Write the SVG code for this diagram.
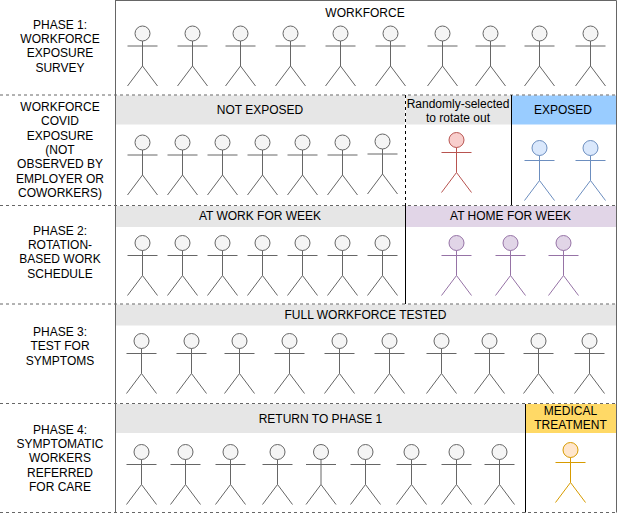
<svg xmlns="http://www.w3.org/2000/svg" xmlns:xlink="http://www.w3.org/1999/xlink" width="617" height="526" viewBox="0 0 617 526">
<style>
text{font-family:"Liberation Sans",Arial,sans-serif;font-size:12px;fill:#000;text-anchor:middle}
.gray{fill:#e6e6e6}.blue{fill:#99ccff}.purple{fill:#e1d5e7}.gold{fill:#ffd966}
.frame{fill:none;stroke:#666;stroke-width:1}
.dash{fill:none;stroke:#666;stroke-width:1;stroke-dasharray:3 3}
.solid{fill:none;stroke:#000;stroke-width:1}
.kdash{fill:none;stroke:#000;stroke-width:1;stroke-dasharray:3 3}
.a{fill:#f5f5f5;stroke:#666}
.r{fill:#f8cecc;stroke:#b85450}
.b{fill:#dae8fc;stroke:#6c8ebf}
.p{fill:#e1d5e7;stroke:#9673a6}
.o{fill:#ffe6cc;stroke:#d79b00}
</style>
<defs>
<g id="actor"><circle cx="0" cy="7.5" r="7.5"/><path d="M0 15V40M-15 20H15M-15 60L0 40L15 60" fill="none"/></g>
</defs>
<g id="bands">
<rect class="gray" x="116" y="95.500" width="289" height="29"/>
<rect class="gray" x="406" y="95.500" width="105" height="29"/>
<rect class="blue" x="512" y="95.500" width="104" height="29"/>
<rect class="gray" x="116" y="206" width="289" height="21"/>
<rect class="purple" x="406" y="206" width="210" height="21"/>
<rect class="gray" x="116" y="304.500" width="500" height="21"/>
<rect class="gray" x="116" y="404" width="409" height="29"/>
<rect class="gold" x="526" y="404" width="90" height="29"/>
</g>
<g id="connectors">
<path class="frame" d="M115.500 0V512.500M115.500 0.500H616.500V512.500"/>
<path class="dash" d="M0 95H616M0 205.500H616M0 304H616M0 403.500H616M0 512.500H616"/>
<path class="kdash" d="M405.500 95V205"/>
<path class="solid" d="M405.500 205V304M511.500 95V205M525.500 404V512.500"/>
</g>
<g id="labels">
<text id="label-phase1"><tspan x="60" y="28.500">PHASE 1:</tspan><tspan x="60" y="43">WORKFORCE</tspan><tspan x="60" y="57">EXPOSURE</tspan><tspan x="60" y="71.500">SURVEY</tspan></text>
<text id="label-exposure"><tspan x="60" y="111">WORKFORCE</tspan><tspan x="60" y="125">COVID</tspan><tspan x="60" y="140">EXPOSURE</tspan><tspan x="60" y="154">(NOT</tspan><tspan x="60" y="168">OBSERVED BY</tspan><tspan x="60" y="183">EMPLOYER OR</tspan><tspan x="60" y="197">COWORKERS)</tspan></text>
<text id="label-phase2"><tspan x="60" y="234.500">PHASE 2:</tspan><tspan x="60" y="249">ROTATION-</tspan><tspan x="60" y="263">BASED WORK</tspan><tspan x="60" y="278">SCHEDULE</tspan></text>
<text id="label-phase3"><tspan x="60" y="336">PHASE 3:</tspan><tspan x="60" y="350">TEST FOR</tspan><tspan x="60" y="365">SYMPTOMS</tspan></text>
<text id="label-phase4"><tspan x="60" y="433.500">PHASE 4:</tspan><tspan x="60" y="448">SYMPTOMATIC</tspan><tspan x="60" y="462">WORKERS</tspan><tspan x="60" y="476.500">REFERRED</tspan><tspan x="60" y="491">FOR CARE</tspan></text>
<text x="365" y="17">WORKFORCE</text>
<text x="260" y="114">NOT EXPOSED</text>
<text><tspan x="458" y="107.500">Randomly-selected</tspan><tspan x="458" y="121.500">to rotate out</tspan></text>
<text x="563" y="114">EXPOSED</text>
<text x="260" y="220">AT WORK FOR WEEK</text>
<text x="510.500" y="220">AT HOME FOR WEEK</text>
<text x="365.500" y="319">FULL WORKFORCE TESTED</text>
<text x="320.500" y="423">RETURN TO PHASE 1</text>
<text><tspan x="570.500" y="415">MEDICAL</tspan><tspan x="570.500" y="429">TREATMENT</tspan></text>
</g>
<g id="row1">
<use id="w1-1" class="a" href="#actor" x="142.500" y="26"/><use id="w1-2" class="a" href="#actor" x="192.500" y="26"/><use id="w1-3" class="a" href="#actor" x="240.500" y="26"/><use id="w1-4" class="a" href="#actor" x="290.500" y="26"/><use id="w1-5" class="a" href="#actor" x="340.500" y="26"/><use id="w1-6" class="a" href="#actor" x="390.500" y="26"/><use id="w1-7" class="a" href="#actor" x="442.500" y="26"/><use id="w1-8" class="a" href="#actor" x="490.500" y="26"/><use id="w1-9" class="a" href="#actor" x="539.500" y="26"/><use id="w1-10" class="a" href="#actor" x="590.500" y="26"/>
</g>
<g id="row2">
<use id="w2-1" class="a" href="#actor" x="142.500" y="135"/><use id="w2-2" class="a" href="#actor" x="182.500" y="135"/><use id="w2-3" class="a" href="#actor" x="222.500" y="135"/><use id="w2-4" class="a" href="#actor" x="262.500" y="135"/><use id="w2-5" class="a" href="#actor" x="302.500" y="135"/><use id="w2-6" class="a" href="#actor" x="342.500" y="135"/><use id="w2-7" class="a" href="#actor" x="382.500" y="134"/>
<use id="w2-red" class="r" href="#actor" x="456.500" y="132.500"/>
<use id="w2-blue1" class="b" href="#actor" x="539.500" y="140.500"/><use id="w2-blue2" class="b" href="#actor" x="590.500" y="140.500"/>
</g>
<g id="row3">
<use id="w3-1" class="a" href="#actor" x="142.500" y="235.500"/><use id="w3-2" class="a" href="#actor" x="182.500" y="235.500"/><use id="w3-3" class="a" href="#actor" x="222.500" y="235.500"/><use id="w3-4" class="a" href="#actor" x="262.500" y="235.500"/><use id="w3-5" class="a" href="#actor" x="302.500" y="235.500"/><use id="w3-6" class="a" href="#actor" x="342.500" y="235.500"/><use id="w3-7" class="a" href="#actor" x="382.500" y="235.500"/>
<use id="w3-p1" class="p" href="#actor" x="456.500" y="235.500"/><use id="w3-p2" class="p" href="#actor" x="510.500" y="235.500"/><use id="w3-p3" class="p" href="#actor" x="563.500" y="235.500"/>
</g>
<g id="row4">
<use id="w4-1" class="a" href="#actor" x="141.500" y="333.500"/><use id="w4-2" class="a" href="#actor" x="191.500" y="333.500"/><use id="w4-3" class="a" href="#actor" x="239.500" y="333.500"/><use id="w4-4" class="a" href="#actor" x="289.500" y="333.500"/><use id="w4-5" class="a" href="#actor" x="339.500" y="333.500"/><use id="w4-6" class="a" href="#actor" x="389.500" y="333.500"/><use id="w4-7" class="a" href="#actor" x="441.500" y="333.500"/><use id="w4-8" class="a" href="#actor" x="489.500" y="333.500"/><use id="w4-9" class="a" href="#actor" x="538.500" y="333.500"/><use id="w4-10" class="a" href="#actor" x="589.500" y="333.500"/>
</g>
<g id="row5">
<use id="w5-1" class="a" href="#actor" x="141.500" y="444.500"/><use id="w5-2" class="a" href="#actor" x="185.500" y="444.500"/><use id="w5-3" class="a" href="#actor" x="230.500" y="444.500"/><use id="w5-4" class="a" href="#actor" x="277.500" y="444.500"/><use id="w5-5" class="a" href="#actor" x="321" y="444.500"/><use id="w5-6" class="a" href="#actor" x="365.500" y="444.500"/><use id="w5-7" class="a" href="#actor" x="411.500" y="444.500"/><use id="w5-8" class="a" href="#actor" x="456.500" y="444.500"/><use id="w5-9" class="a" href="#actor" x="499.500" y="444.500"/>
<use id="w5-orange" class="o" href="#actor" x="570.500" y="442.500"/>
</g>
</svg>
